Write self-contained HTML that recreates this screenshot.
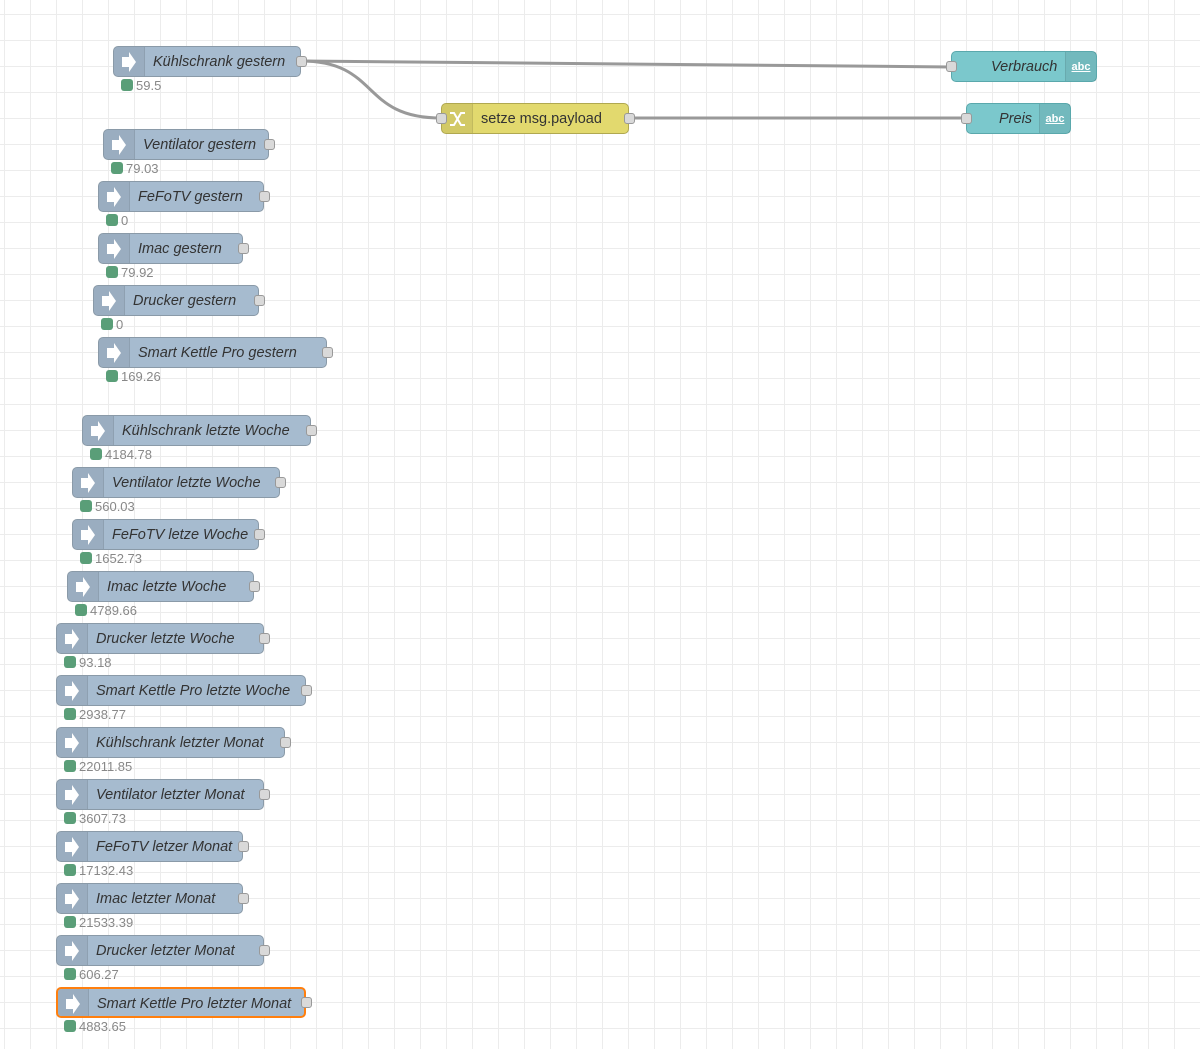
<!DOCTYPE html>
<html><head><meta charset="utf-8"><style>
body{margin:0;width:1200px;height:1049px;overflow:hidden;background:#fff;font-family:"Liberation Sans",sans-serif;}
#c{position:absolute;left:0;top:0;width:1200px;height:1049px;
background-image:linear-gradient(to right,#ececec 1px,transparent 1px),linear-gradient(to bottom,#ececec 1px,transparent 1px);
background-size:26px 26px;background-position:4px 14px;}
.n{position:absolute;height:31px;background:#a6bbcf;border:1px solid #8a9aa8;border-radius:5px;box-sizing:border-box;}
.n .ic{position:absolute;left:0;top:0;bottom:0;width:30px;background:rgba(0,0,0,0.07);border-right:1px solid rgba(0,0,0,0.08);border-radius:4px 0 0 4px;}
.n .ic svg{position:absolute;left:7px;top:5px;}
.n .t{position:absolute;left:39px;top:7px;font-size:14.5px;font-style:italic;color:#333;white-space:nowrap;}
.p{position:absolute;width:11px;height:11px;background:#d9d9d9;border:1px solid #999;border-radius:3px;box-sizing:border-box;}
.s{position:absolute;font-size:13px;color:#888;white-space:nowrap;}
.s i{display:inline-block;width:12px;height:12px;background:#5a9e78;border-radius:3px;vertical-align:-1px;margin-right:3px;}
.sel{border:2px solid #ff7f0e;}
.abc{position:absolute;right:0;top:0;bottom:0;width:30px;background:rgba(0,0,0,0.07);border-left:1px solid rgba(0,0,0,0.08);color:#fff;font-size:11px;font-weight:bold;text-align:center;line-height:30px;text-decoration:underline}
</style></head><body><div id="c"></div>
<svg width="1200" height="1049" style="position:absolute;left:0;top:0">
<g fill="none" stroke="#999" stroke-width="3">
<path d="M301 61 L951 67"/>
<path d="M301 61 C380 61 360 118 441 118"/>
<path d="M629 118 L966 118"/>
</g></svg>
<div id="nodes"></div>
<script>
const arrow='<svg width="16" height="20" viewBox="0 0 16 20"><path d="M1 5 H8 V0 L15 10 L8 20 V15 H1 Z" fill="#fff"/></svg>';
const N=[["Kühlschrank gestern",113,301,61,"59.5"],["Ventilator gestern",103,269,144,"79.03"],["FeFoTV gestern",98,264,196,"0"],["Imac gestern",98,243,248,"79.92"],["Drucker gestern",93,259,300,"0"],["Smart Kettle Pro gestern",98,327,352,"169.26"],["Kühlschrank letzte Woche",82,311,430,"4184.78"],["Ventilator letzte Woche",72,280,482,"560.03"],["FeFoTV letze Woche",72,259,534,"1652.73"],["Imac letzte Woche",67,254,586,"4789.66"],["Drucker letzte Woche",56,264,638,"93.18"],["Smart Kettle Pro letzte Woche",56,306,690,"2938.77"],["Kühlschrank letzter Monat",56,285,742,"22011.85"],["Ventilator letzter Monat",56,264,794,"3607.73"],["FeFoTV letzer Monat",56,243,846,"17132.43"],["Imac letzter Monat",56,243,898,"21533.39"],["Drucker letzter Monat",56,264,950,"606.27"],["Smart Kettle Pro letzter Monat",56,306,1002,"4883.65"]];
let h='';
N.forEach((a,i)=>{const [t,l,r,c,s]=a;const w=r-l;
h+=`<div class="n${i==17?' sel':''}" style="left:${l}px;top:${c-15}px;width:${w}px"><div class="ic">${arrow}</div><div class="t">${t}</div></div>`;
h+=`<div class="p" style="left:${r-5}px;top:${c-5}px"></div>`;
h+=`<div class="s" style="left:${l+8}px;top:${c+17}px"><i></i>${s}</div>`;});
document.getElementById('nodes').innerHTML=h;
</script>
<div class="n" style="left:441px;top:103px;width:188px;background:#e2d96e;border-color:#b0a850"><div class="ic"><svg width="18" height="20" viewBox="0 0 18 20"><g stroke="#fff" stroke-width="2" fill="none"><path d="M1 4 H5 L12 16 H16"/><path d="M1 16 H5 L12 4 H16"/></g></svg></div><div class="t" style="font-style:normal;left:39px">setze msg.payload</div></div>
<div class="p" style="left:436px;top:113px"></div><div class="p" style="left:624px;top:113px"></div>
<div class="n" style="left:951px;top:51px;width:146px;background:#7bc8cc;border-color:#5aa8ac"><div class="t" style="left:39px">Verbrauch</div><div class="abc">abc</div></div>
<div class="p" style="left:946px;top:61px"></div>
<div class="n" style="left:966px;top:103px;width:105px;background:#7bc8cc;border-color:#5aa8ac"><div class="t" style="left:32px">Preis</div><div class="abc">abc</div></div>
<div class="p" style="left:961px;top:113px"></div>
</body></html>
